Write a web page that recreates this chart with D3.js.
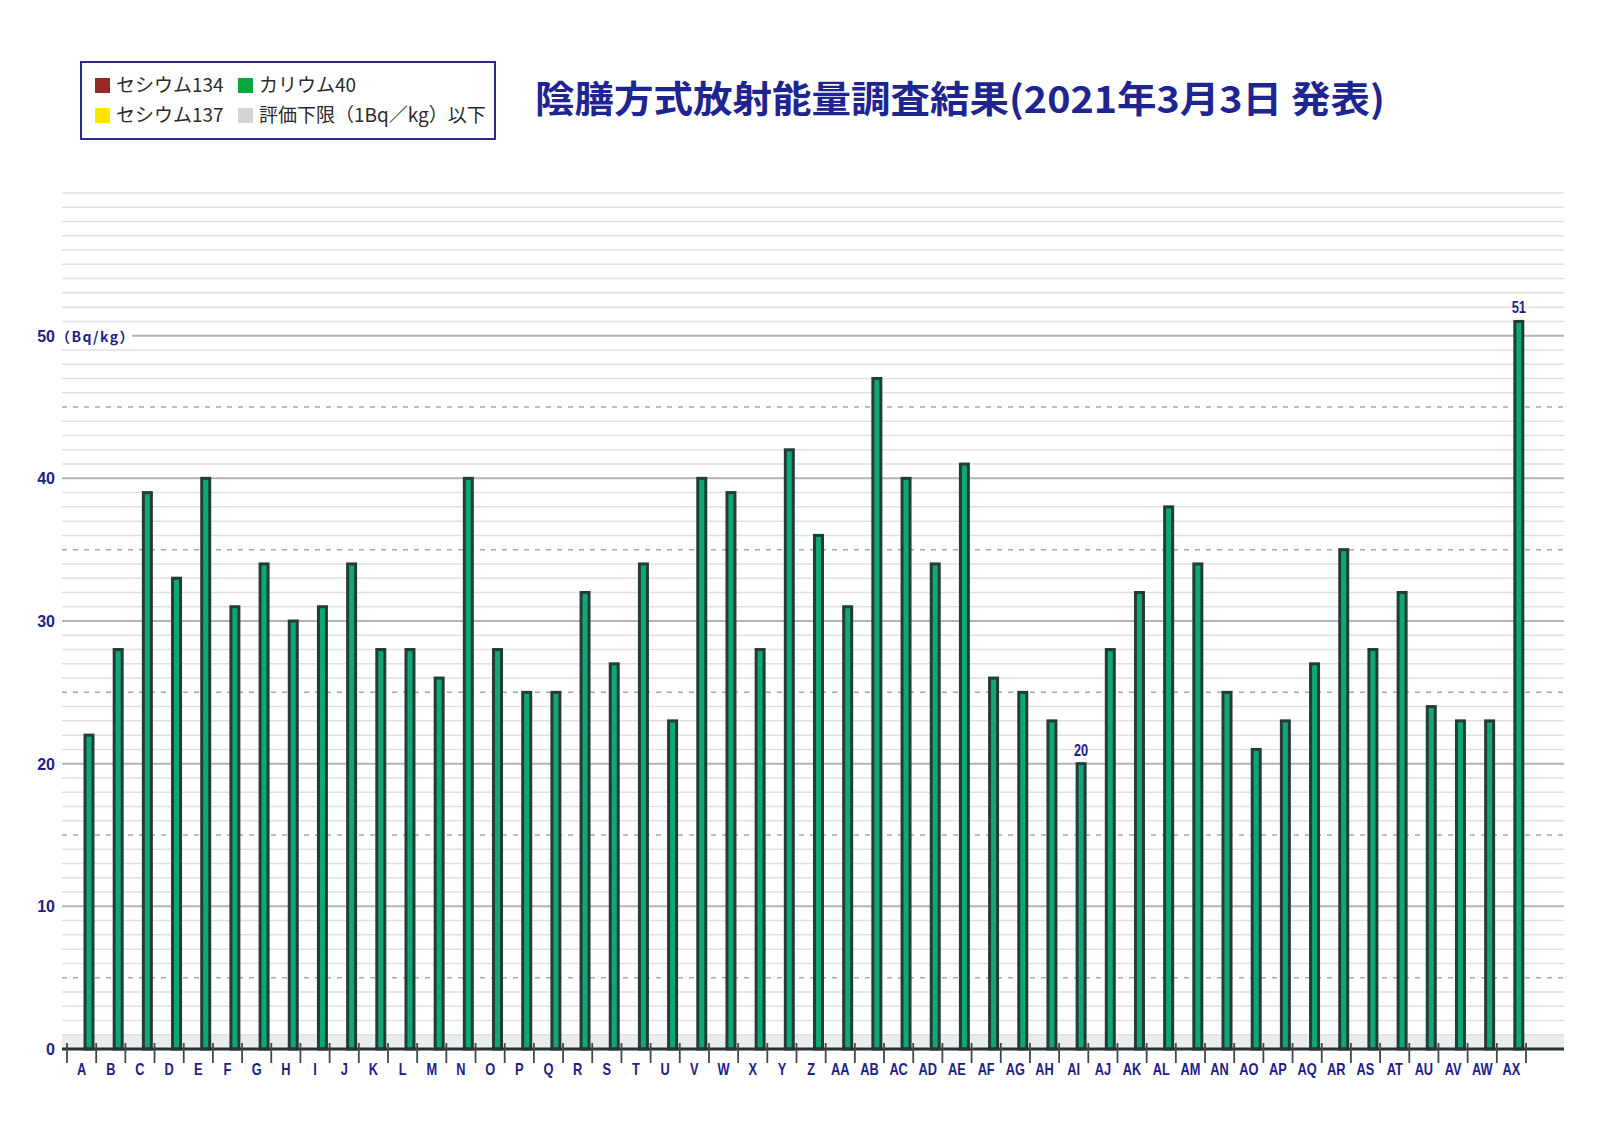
<!DOCTYPE html>
<html><head><meta charset="utf-8">
<script src="https://cdn.jsdelivr.net/npm/d3@7"></script>
<style>
html,body{margin:0;padding:0;background:#fff;}
svg{display:block;}
</style></head>
<body>
<svg id="chart" width="1600" height="1140"></svg>
<script>
const categories = ["A","B","C","D","E","F","G","H","I","J","K","L","M","N","O","P","Q","R","S","T","U","V","W","X","Y","Z","AA","AB","AC","AD","AE","AF","AG","AH","AI","AJ","AK","AL","AM","AN","AO","AP","AQ","AR","AS","AT","AU","AV","AW","AX"];
const potassium40 = [22,28,39,33,40,31,34,30,31,34,28,28,26,40,28,25,25,32,27,34,23,40,39,28,42,36,31,47,40,34,41,26,25,23,20,28,32,38,34,25,21,23,27,35,28,32,24,23,23,51];
const yTickValues = [0,10,20,30,40,50];
const majorGrid = [10,20,30,40,50];
const dashedGrid = [5,15,25,35,45];
const legendItems = [
  {label:"セシウム134", color:"#962a22", col:0, row:0},
  {label:"カリウム40", color:"#0aa83c", col:1, row:0},
  {label:"セシウム137", color:"#ffe500", col:0, row:1},
  {label:"評価下限（1Bq／kg）以下", color:"#d2d4d8", col:1, row:1}
];
const titleText = "陰膳方式放射能量調査結果(2021年3月3日 発表)";
const unitText = "（Bq/kg）";
const detectionLimit = 1;

const svg = d3.select("#chart");
const navy = "#1e2288";
const jp = "'Noto Sans CJK JP','Noto Sans',sans-serif";
const lat = "'Liberation Sans',Arial,sans-serif";

const x0 = 67, x1 = 1526, gridL = 62, gridR = 1564;
const x = d3.scaleBand().domain(categories).range([x0, x1]).padding(0);
const y = d3.scaleLinear().domain([0, 60]).range([1049, 193]);

// detection limit band
svg.append("rect").attr("x", gridL).attr("width", gridR - gridL)
  .attr("y", y(detectionLimit)).attr("height", y(0) - y(detectionLimit))
  .attr("fill", "#ebecee");

// gridlines
const gridVals = d3.range(1, 61);
const kind = d => majorGrid.includes(d) ? "major" : (dashedGrid.includes(d) ? "dash" : "minor");
svg.append("g").selectAll("line").data(gridVals).join("line")
  .attr("x1", d => (d === 50 ? 132 : gridL)).attr("x2", gridR)
  .attr("y1", d => y(d)).attr("y2", d => y(d))
  .attr("stroke", d => kind(d) === "major" ? "#b3b3b3" : (kind(d) === "dash" ? "#a8a8a8" : "#e1e1e1"))
  .attr("stroke-width", d => kind(d) === "major" ? 2 : 1.5)
  .attr("stroke-dasharray", d => kind(d) === "dash" ? "5,6" : null);

// y labels
const yl = svg.append("g");
yl.selectAll("text").data(yTickValues).join("text")
  .attr("x", 55).attr("y", d => y(d) + 6)
  .attr("text-anchor", "end")
  .attr("font-family", lat).attr("font-weight", 700)
  .attr("font-size", 16).attr("fill", navy)
  .text(d => d);
yl.append("text").attr("x", 56).attr("y", y(50) + 6)
  .attr("font-family", jp).attr("font-weight", 700)
  .attr("font-size", 14).attr("fill", navy).attr("letter-spacing", 1.5)
  .text(unitText);

// bars
const barOff = 18, barW = 8;
svg.append("g").selectAll("rect").data(potassium40).join("rect")
  .attr("x", (d, i) => x(categories[i]) + barOff)
  .attr("y", d => y(d))
  .attr("width", barW)
  .attr("height", d => y(0) - y(d))
  .attr("fill", "#0ea874")
  .attr("stroke", "#253b3a")
  .attr("stroke-width", 3);

// value labels (max and min)
const maxV = d3.max(potassium40), minV = d3.min(potassium40);
const flagged = potassium40.map((v, i) => ({v, i})).filter(o => o.v === maxV || o.v === minV);
svg.append("g").selectAll("text").data(flagged).join("text")
  .attr("x", o => x(categories[o.i]) + barOff + barW / 2)
  .attr("y", o => y(o.v) - 8)
  .attr("text-anchor", "middle")
  .attr("font-family", lat).attr("font-weight", 700)
  .attr("font-size", 16).attr("fill", navy)
  .attr("transform", o => { const cx = x(categories[o.i]) + barOff + barW / 2; return `translate(${cx},0) scale(0.8,1) translate(${-cx},0)`; })
  .text(o => o.v);

// x axis line
svg.append("line").attr("x1", gridL).attr("x2", gridR)
  .attr("y1", y(0)).attr("y2", y(0))
  .attr("stroke", "#243433").attr("stroke-width", 3);

// x ticks at band boundaries
const bounds = categories.map(c => x(c)).concat([x1]);
svg.append("g").selectAll("line").data(bounds).join("line")
  .attr("x1", d => d).attr("x2", d => d)
  .attr("y1", y(0) - 6).attr("y2", y(0) + 14)
  .attr("stroke", "#3c4a4a").attr("stroke-width", 1.8);

// x labels
svg.append("g").selectAll("text").data(categories).join("text")
  .attr("x", c => x(c) + x.bandwidth() / 2)
  .attr("y", 1075)
  .attr("text-anchor", "middle")
  .attr("font-family", lat).attr("font-weight", 700)
  .attr("font-size", 16).attr("fill", navy)
  .attr("transform", c => { const cx = x(c) + x.bandwidth() / 2; return `translate(${cx},0) scale(0.8,1) translate(${-cx},0)`; })
  .text(c => c);

// legend
const lg = svg.append("g");
lg.append("rect").attr("x", 81).attr("y", 62).attr("width", 414).attr("height", 77)
  .attr("fill", "#fff").attr("stroke", "#262a8e").attr("stroke-width", 2);
const colX = [95, 238], rowY = [78, 108];
lg.selectAll("rect.sw").data(legendItems).join("rect").attr("class", "sw")
  .attr("x", d => colX[d.col]).attr("y", d => rowY[d.row])
  .attr("width", 15).attr("height", 15).attr("fill", d => d.color);
lg.selectAll("text").data(legendItems).join("text")
  .attr("x", d => colX[d.col] + 21).attr("y", d => rowY[d.row] + 14)
  .attr("font-family", jp).attr("font-size", 19).attr("fill", "#2b2b2b")
  .text(d => d.label);

// title
svg.append("text").attr("x", 535).attr("y", 113)
  .attr("font-family", jp).attr("font-weight", 700)
  .attr("font-size", 37).attr("fill", "#1f2590")
  .attr("textLength", 850).attr("lengthAdjust", "spacingAndGlyphs")
  .text(titleText);
</script>
</body></html>
